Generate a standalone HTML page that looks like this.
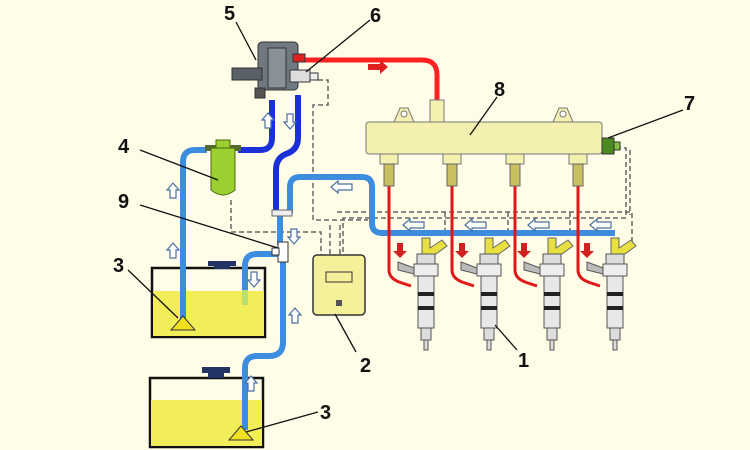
<!DOCTYPE html>
<html><head><meta charset="utf-8"><style>
html,body{margin:0;padding:0;background:#fffde8;}
svg{display:block}
text{font-family:"Liberation Sans",sans-serif;font-weight:bold;font-size:20px;fill:#111}
</style></head><body>
<svg width="750" height="450" viewBox="0 0 750 450" xmlns="http://www.w3.org/2000/svg">
<defs>
<g id="inj">
  <path d="M-4,-12 h8 v10 l12,-8 l5,6 l-14,10 h-11 z" fill="#e8e040" stroke="#666" stroke-width="1"/>
  <rect x="-9" y="4" width="18" height="10" fill="#ddd" stroke="#555"/>
  <rect x="-12" y="14" width="24" height="12" fill="#eee" stroke="#555"/>
  <rect x="-8" y="26" width="16" height="52" fill="#e8e8e8" stroke="#555"/>
  <rect x="-8" y="42" width="16" height="4" fill="#222"/>
  <rect x="-8" y="56" width="16" height="4" fill="#222"/>
  <rect x="-5" y="78" width="10" height="12" fill="#ddd" stroke="#555"/>
  <rect x="-2" y="90" width="4" height="10" fill="#ddd" stroke="#555"/>
  <path d="M-12,18 l-16,-6 v8 l16,4z" fill="#bbb" stroke="#555"/>
</g>
<g id="arrU"><path d="M-3,8 v-8 h-3 l6,-7 l6,7 h-3 v8z" fill="#fff" stroke="#4a6fa0" stroke-width="1.2"/></g>
<g id="arrL"><path d="M14,-3 h-14 v-3 l-7,6 l7,6 v-3 h14z" fill="#fff" stroke="#4a6fa0" stroke-width="1.2"/></g>
<g id="arrDR"><path d="M-3,-7 v8 h-4 l7,7 l7,-7 h-4 v-8z" fill="#d02020"/></g>
</defs>
<rect width="750" height="450" fill="#fffde8"/>

<!-- dashed wires -->
<g fill="none" stroke="#666" stroke-width="1.5" stroke-dasharray="5,3">
  <path d="M318,80 h10 v25 h-15 v115 h55"/>
  <path d="M231,200 v32 h90 v25"/>
  <path d="M616,148 h10 v70 h-283 v40"/>
  <path d="M630,150 v65"/>
  <path d="M337,212 h295 v35"/>
  <path d="M330,225 v30 M340,225 v30"/>
  <path d="M445,212 v20 M508,212 v20 M570,212 v20"/>
</g>

<!-- tanks -->
<g stroke="#111" stroke-width="2.5">
  <rect x="152" y="268" width="113" height="69" fill="#fffde8"/>
  <rect x="153" y="291" width="111" height="45" fill="#f2ee5a" stroke="none"/>
  <rect x="150" y="378" width="113" height="69" fill="#fffde8"/>
  <rect x="151" y="400" width="111" height="46" fill="#f2ee5a" stroke="none"/>
</g>
<rect x="208" y="261" width="28" height="5" fill="#223366"/><rect x="214" y="265" width="16" height="4" fill="#223366"/>
<rect x="202" y="367" width="28" height="6" fill="#223366"/><rect x="208" y="372" width="16" height="6" fill="#223366"/>

<!-- light blue pipes -->
<g fill="none" stroke="#3c8de0" stroke-width="6" stroke-linecap="butt">
  <path d="M183,322 V162 q0,-12 12,-12 h12"/>
  <path d="M245,305 V266 q0,-12 12,-12 h22"/>
  <path d="M283,255 V342 q0,14 -14,14 h-12 q-12,0 -12,12 V430"/>
  <path d="M280,213 V245"/>
  <path d="M290,213 V187 q0,-10 10,-10 h62 q10,0 10,10 v36 q0,10 10,10 H615"/>
</g>
<path d="M245,290 v15" stroke="#b8e070" stroke-width="6"/>
<!-- dark blue -->
<g fill="none" stroke="#1a30d8" stroke-width="6">
  <path d="M238,150 h22 q12,0 12,-12 V100"/>
  <path d="M298,95 V138 q0,12 -12,16 q-10,4 -10,16 V212"/>
</g>
<rect x="272" y="210" width="20" height="6" fill="#eee" stroke="#666"/>
<!-- fitting 9 -->
<rect x="278" y="242" width="10" height="20" fill="#fff" stroke="#333"/>
<rect x="272" y="248" width="7" height="7" fill="#fff" stroke="#333"/>
<!-- pickups -->
<path d="M183,316 l-12,14 h24z" fill="#f2e020" stroke="#333"/>
<path d="M241,426 l-12,14 h24z" fill="#f2e020" stroke="#333"/>

<!-- filter -->
<rect x="205" y="145" width="36" height="6" fill="#556b2f"/>
<path d="M211,148 h24 v42 q-12,10 -24,0z" fill="#9ccf30" stroke="#4a6a10"/>
<rect x="216" y="140" width="14" height="8" fill="#9ccf30" stroke="#4a6a10"/>

<!-- red pipes -->
<g fill="none" stroke="#ff2020" stroke-width="5">
  <path d="M300,60 H422 q15,0 15,15 V108"/>
</g>
<g fill="none" stroke="#e01818" stroke-width="3">
  <path d="M389,185 V270 q0,8 10,12 l12,4"/>
  <path d="M452,185 V270 q0,8 10,12 l12,4"/>
  <path d="M515,185 V270 q0,8 10,12 l12,4"/>
  <path d="M578,185 V270 q0,8 10,12 l12,4"/>
</g>
<path d="M368,64 h12 v-4 l8,7 l-8,7 v-4 h-12z" fill="#e02020"/>

<!-- pump -->
<g stroke="#333" stroke-width="1">
  <rect x="258" y="42" width="40" height="48" rx="4" fill="#707880"/>
  <rect x="232" y="68" width="30" height="12" fill="#5a6068"/>
  <rect x="268" y="48" width="18" height="40" fill="#8a9098"/>
  <rect x="290" y="70" width="20" height="12" fill="#ddd"/>
  <rect x="310" y="73" width="8" height="7" fill="#eee"/>
  <rect x="293" y="54" width="12" height="8" fill="#e02020"/>
  <rect x="255" y="88" width="10" height="10" fill="#555"/>
</g>

<!-- rail -->
<g stroke="#777" stroke-width="1" fill="#f3f0b0">
  <path d="M394,122 l6,-14 h8 l6,14z"/><circle cx="404" cy="114" r="3" fill="#fff"/>
  <path d="M553,122 l6,-14 h8 l6,14z"/><circle cx="563" cy="114" r="3" fill="#fff"/>
  <rect x="430" y="100" width="14" height="22"/>
  <rect x="366" y="122" width="236" height="32" rx="3"/>
  <rect x="380" y="154" width="18" height="10"/>
  <rect x="443" y="154" width="18" height="10"/>
  <rect x="506" y="154" width="18" height="10"/>
  <rect x="569" y="154" width="18" height="10"/>
</g>
<g fill="#c8c060" stroke="#666">
  <rect x="384" y="164" width="10" height="22"/><rect x="447" y="164" width="10" height="22"/>
  <rect x="510" y="164" width="10" height="22"/><rect x="573" y="164" width="10" height="22"/>
</g>
<rect x="602" y="138" width="12" height="16" fill="#4a8a20" stroke="#333"/>
<rect x="614" y="142" width="6" height="8" fill="#8ac040" stroke="#333"/>

<!-- ECU -->
<rect x="313" y="255" width="52" height="60" rx="4" fill="#f5f09a" stroke="#333" stroke-width="1.5"/>
<rect x="326" y="272" width="26" height="10" fill="none" stroke="#333"/>
<rect x="336" y="300" width="6" height="6" fill="#555"/>

<!-- injectors -->
<use href="#inj" x="426" y="250"/><use href="#inj" x="489" y="250"/>
<use href="#inj" x="552" y="250"/><use href="#inj" x="615" y="250"/>

<!-- arrows -->
<use href="#arrU" x="173" y="190"/><use href="#arrU" x="173" y="250"/>
<use href="#arrU" x="268" y="120"/><use href="#arrU" x="295" y="315"/><use href="#arrU" x="251" y="383"/>
<g transform="translate(290,122) rotate(180)"><use href="#arrU"/></g>
<g transform="translate(294,237) rotate(180)"><use href="#arrU"/></g>
<g transform="translate(254,280) rotate(180)"><use href="#arrU"/></g>
<use href="#arrL" x="338" y="187"/>
<use href="#arrL" x="410" y="225"/><use href="#arrL" x="472" y="225"/>
<use href="#arrL" x="535" y="225"/><use href="#arrL" x="597" y="225"/>
<use href="#arrDR" x="400" y="250"/><use href="#arrDR" x="462" y="250"/>
<use href="#arrDR" x="524" y="250"/><use href="#arrDR" x="587" y="250"/>

<!-- leader lines -->
<g stroke="#111" stroke-width="1.3">
  <line x1="236" y1="22" x2="256" y2="60"/>
  <line x1="370" y1="20" x2="306" y2="72"/>
  <line x1="497" y1="97" x2="470" y2="135"/>
  <line x1="683" y1="110" x2="608" y2="138"/>
  <line x1="140" y1="150" x2="218" y2="180"/>
  <line x1="140" y1="205" x2="278" y2="248"/>
  <line x1="128" y1="270" x2="178" y2="318"/>
  <line x1="318" y1="412" x2="246" y2="432"/>
  <line x1="356" y1="352" x2="335" y2="314"/>
  <line x1="517" y1="350" x2="495" y2="325"/>
</g>
<text x="224" y="20">5</text><text x="370" y="22">6</text>
<text x="494" y="96">8</text><text x="684" y="110">7</text>
<text x="118" y="153">4</text><text x="118" y="208">9</text>
<text x="113" y="272">3</text><text x="320" y="419">3</text>
<text x="360" y="372">2</text><text x="518" y="367">1</text>
</svg>
</body></html>
